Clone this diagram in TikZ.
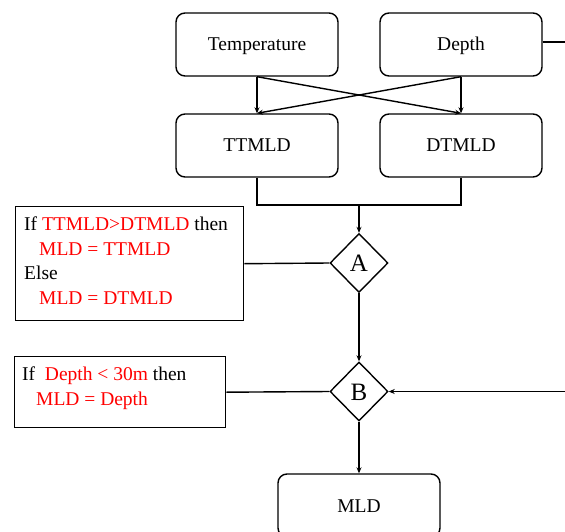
\documentclass[tikz,border=0pt]{standalone}
\usepackage{fontspec}
\setmainfont{Liberation Serif}
\usetikzlibrary{shapes.geometric,arrows.meta}

\tikzset{
  lw/.style={line width=1.4pt},
  proc/.style={lw, draw, rounded corners=9pt, minimum width=162pt,
    minimum height=63pt, inner sep=0pt, text height=13pt, text depth=0pt,
    font=\fontsize{19.5}{23}\selectfont},
  dec/.style={lw, draw, diamond, minimum width=58pt, minimum height=59pt,
    inner sep=0pt, text height=17pt, text depth=0pt,
    font=\fontsize{25}{28}\selectfont},
  rulebox/.style={lw, draw, rectangle, inner sep=0pt, anchor=north west},
  txt/.style={anchor=north west, align=left, inner sep=0pt,
    font=\fontsize{19.5}{24.5}\selectfont},
  arr/.style={lw, -{Stealth[length=6pt,width=5pt]}},
}

\begin{document}
\begin{tikzpicture}[x=1pt, y=-1pt]
  \clip (0,0) rectangle (565,532);

  % source and threshold-method boxes
  \node[proc] (temp)  at (257,44.5) {Temperature};
  \node[proc] (depth) at (461,44.5) {Depth};
  \node[proc] (tt)    at (257,145.5) {TTMLD};
  \node[proc] (dt)    at (461,145.5) {DTMLD};

  % decisions and result
  \node[dec] (A) at (359,263) {A};
  \node[dec] (B) at (359,391.5) {B};
  \node[proc] (mld) at (359,505.5) {MLD};

  % rule boxes
  \node[rulebox, minimum width=228pt, minimum height=114pt] (rA) at (15,206) {};
  \node[txt] (tA) at (24,217)
    {If \textcolor{red}{TTMLD>DTMLD} then\\
     \hspace*{15pt}\textcolor{red}{MLD = TTMLD}\\
     Else\\
     \hspace*{15pt}\textcolor{red}{MLD = DTMLD}};
  \node[rulebox, minimum width=211pt, minimum height=71pt] (rB) at (14,356) {};
  \node[txt] (tB) at (22,367)
    {If \ \textcolor{red}{Depth < 30m} then\\
     \hspace*{14pt}\textcolor{red}{MLD = Depth}};

  % free ends at the right edge
  \coordinate (eD) at (570,42);
  \coordinate (eB) at (570,391.5);
  \coordinate (j)  at (359,205);

  % crossing arrows
  \draw[arr] (temp.south) -- (tt.north);
  \draw[arr] (temp.south) -- (dt.north);
  \draw[arr] (depth.south) -- (tt.north);
  \draw[arr] (depth.south) -- (dt.north);

  % merge into A
  \draw[lw] (tt.south) |- (j) -| (dt.south);
  \draw[arr] (j) -- (A.north);

  % rules attached to decisions
  \draw[lw] (rA.east) -- (A.west);
  \draw[lw] (rB.east) -- (B.west);

  \draw[arr] (A.south) -- (B.north);
  \draw[arr] (B.south) -- (mld.north);

  \draw[lw] (depth.east |- eD) -- (eD);
  \draw[arr] (eB) -- (B.east);
\end{tikzpicture}
\end{document}
